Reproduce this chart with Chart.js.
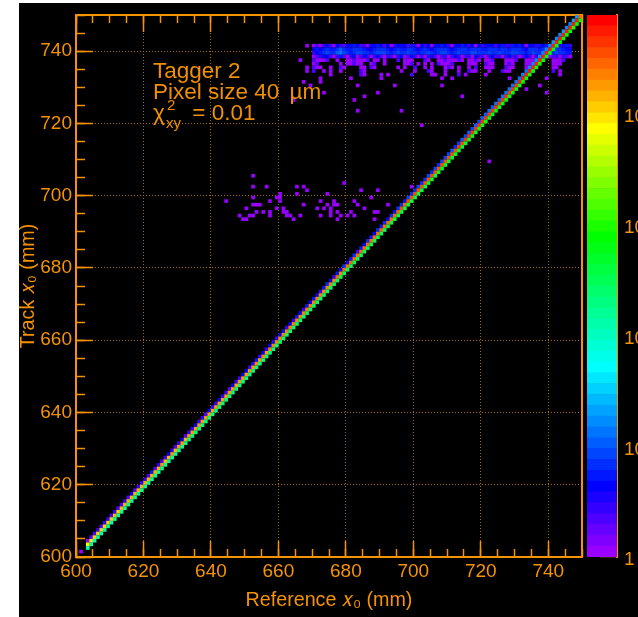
<!DOCTYPE html>
<html>
<head>
<meta charset="utf-8">
<title>Tagger 2</title>
<script src="https://cdn.jsdelivr.net/npm/chart.js@4/dist/chart.umd.min.js"></script>
<style>
html,body{margin:0;padding:0;background:#fff;}
#box{position:absolute;left:19px;top:3px;width:619px;height:614px;background:#000;overflow:hidden;}
#main{position:absolute;left:0;top:0;}
#bar{position:absolute;left:567px;top:0;}
.note{position:absolute;left:134px;color:#f09000;font:22.5px "Liberation Sans",sans-serif;white-space:pre;line-height:22px;}
.chi{display:inline-block;position:relative;width:33px;}
.chi span{position:absolute;left:14px;font-size:15px;line-height:15px;}
</style>
</head>
<body>
<div id="box">
  <canvas id="main" width="567" height="614"></canvas>
  <canvas id="bar" width="52" height="614"></canvas>
  <div class="note" style="top:57px">Tagger 2</div>
  <div class="note" style="top:78px">Pixel size 40 <span style="margin-left:4px">µm</span></div>
  <div class="note" style="top:99px"><span class="chi">χ<span style="top:-5px">2</span><span style="top:13px;left:13px">xy</span></span> = 0.01</div>
</div>
<script>
const ORANGE = '#f59300';
const GRID_ORANGE = '#a56800';
const FONT = '"Liberation Sans", sans-serif';

// columns of the diagonal, one value per x bin starting at 603
const DIAG_START = 603;
const diagUpper = [
  1,2,2,3,2,3,3,
  2,3,2,2,3,2,4,2,3,3,
  3,2,5,2,3,2,3,4,3,2,
  3,4,2,3,3,4,3,3,2,4,
  3,3,4,3,3,2,4,3,3,4,
  4,3,3,5,3,4,3,4,5,3,
  4,5,3,4,3,5,4,3,5,4,
  5,4,3,5,6,4,3,5,4,6,
  4,5,6,3,5,4,6,5,4,6,
  5,7,4,6,5,7,6,5,8,6,
  7,8,6,7,9,7,8,7,9,8,
  8,10,7,9,10,8,11,9,10,9,
  11,10,12,10,13,11,12,14,12,13,
  14,13,15,14,16,15,17,15,16,18,
  17,19,16,18,20,18,17,21,19,20
];
const diagMid = [
  6500,9000,10500,11000,11500,12000,12000,
  12500,13000,12000,13000,14000,13000,14000,14000,13000,14000,
  15000,14000,15000,15000,14000,16000,15000,15000,16000,15000,
  16000,16000,15000,17000,16000,17000,16000,17000,17000,16000,
  17000,18000,17000,18000,17000,18000,19000,18000,18000,19000,
  19000,18000,19000,20000,19000,20000,19000,20000,20000,21000,
  20000,21000,21000,20000,22000,21000,22000,22000,21000,23000,
  22000,23000,23000,24000,23000,24000,24000,25000,24000,25000,
  25000,26000,25000,27000,26000,27000,27000,28000,28000,29000,
  29000,28000,30000,30000,31000,30000,32000,31000,32000,33000,
  33000,34000,33000,35000,35000,34000,36000,36000,37000,37000,
  38000,38000,39000,40000,39000,41000,41000,42000,42000,43000,
  43000,44000,45000,44000,46000,46000,47000,47000,48000,49000,
  49000,50000,50000,51000,52000,52000,53000,54000,54000,55000,
  55000,56000,56000,57000,58000,58000,59000,60000,56000,30000
];
const diagLower = [
  115,125,130,128,135,132,140,
  138,145,142,150,148,152,150,155,158,152,
  160,155,162,165,158,168,165,170,166,172,
  175,170,178,176,180,182,178,185,188,184,
  190,186,192,195,190,198,196,200,202,198,
  205,208,204,210,212,208,215,218,214,220,
  224,220,228,232,226,236,240,235,244,248,
  245,252,258,254,262,268,264,272,278,275,
  285,292,288,298,305,300,312,320,316,328,
  335,330,345,352,348,362,370,365,380,390,
  385,400,412,408,425,435,430,448,460,455,
  472,485,480,498,510,505,525,540,535,555,
  570,565,585,600,595,615,630,625,645,660,
  655,675,690,685,705,720,715,735,750,745,
  770,785,780,800,820,815,835,850,845,700
];

// dense rows of the block near y = 740, one value per x bin starting at 668
const BAND_START = 668;
const band741 = [1,0,1,2,1,3,4,2,1,4,3,2,4,4,5,4,2,3,1,4,4,5,4,2,4,1,3,4,4,4,2,5,3,1,4,3,4,1,4,4,5,4,3,1,4,4,5,4,3,4,1,4,3,4,4,4,2,4,5,3,3,5,4,5,4,1,4,4,3,5,4,5,4,3,4,3,4,5,3];
const band740 = [0,0,4,5,4,5,6,5,5,7,11,6,5,5,6,7,6,5,4,4,5,6,7,6,5,4,5,6,5,5,6,7,5,4,5,6,5,4,5,6,7,6,5,4,5,6,7,6,5,6,7,6,5,5,6,7,6,5,7,6,5,6,7,6,5,4,6,7,6,5,7,6,5,6,7,6,5,4,4];
const band739 = [0,0,3,4,5,7,8,6,7,10,14,8,6,5,7,8,8,7,6,5,7,8,9,8,6,5,7,8,6,7,8,7,6,5,6,7,8,6,5,7,8,8,6,5,6,8,7,6,7,8,8,7,6,7,8,6,7,8,7,6,7,8,8,7,6,5,7,8,6,7,8,8,6,7,8,7,6,5,5];
const band738 = [0,0,1,2,3,4,4,2,1,3,5,2,1,3,4,1,2,4,3,1,3,4,2,1,3,2,1,3,4,1,2,4,3,1,3,1,3,4,2,1,2,3,1,2,4,3,1,2,3,1,4,3,2,1,3,4,2,3,1,3,4,2,3,1,2,4,3,1,3,2,4,3,1,2,3,1,3,2,1];

// sparse rows under the block, x bins holding one or two entries
const row737 = [666,670,671,672,673,674,677,680,681,682,683,684,685,686,688,689,691,695,697,698,699,703,704,707,708,709,710,711,712,713,714,716,717,718,719,721,722,723,727,728,729,730,733,734,735,736,741,742,743,744];
const row736 = [670,671,678,680,681,682,683,684,687,688,691,697,698,699,701,703,705,707,708,709,710,711,716,717,718,721,722,723,727,728,729,733,734,735,741,742,743];
const row735 = [668,670,671,672,675,678,679,684,685,687,688,695,697,700,703,705,709,710,711,713,716,718,721,722,723,727,728,729,733,734,735,741,742];
const row734 = [668,670,673,675,678,684,685,696,700,704,705,709,713,716,717,718,722,726,727,728,735,741,743];
const row733 = [675,684,685,690,692,699,705,706,709,713,715,721,743];

// isolated bins above the diagonal
const strayX = [601,652,652,656,665,667,668,665,660,674,679,684,689,699,652,659,660,687,644,657,660,672,676,682,652,653,654,667,674,676,677,683,692,650,659,661,671,673,675,685,653,655,657,661,662,675,677,681,688,689,648,651,652,657,662,663,666,672,675,678,680,682,649,650,664,677,688,667,672,672,669,673,681,683,690,694,689,685,682,664,683,696,702,708,711,708,714,728,739,733,737,739,722];
const strayY = [601,705,702,702,702,702,701,700,700,700,703,701,701,702,699,699,699,699,698,698,698,698,698,698,697,697,697,697,697,697,697,697,697,696,696,696,696,696,696,696,695,695,695,695,695,695,695,695,695,695,694,694,694,694,694,694,694,694,694,694,694,694,693,693,693,693,693,731,732,731,730,728,732,730,732,730,728,727,726,726,723,723,719,732,732,730,727,732,732,729,730,728,709];

// colour bar: palette from the lowest band up, and the band edges in counts
const paletteColors = [
  '#9900ff','#8000ff','#6600ff','#4d00ff','#3300ff','#1a00ff','#0000ff','#0017ff','#002eff','#0046ff',
  '#005dff','#0074ff','#008bff','#00a2ff','#00b9ff','#00d1ff','#00e8ff','#00ffff','#00ffea','#00ffd4',
  '#00ffbf','#00ffaa','#00ff95','#00ff80','#00ff6a','#00ff55','#00ff40','#00ff2a','#00ff15','#00ff00',
  '#1aff00','#33ff00','#4dff00','#66ff00','#80ff00','#99ff00','#b3ff00','#ccff00','#e6ff00','#ffff00',
  '#ffe600','#ffcc00','#ffb300','#ff9900','#ff8000','#ff6600','#ff4d00','#ff3300','#ff1a00','#ff0000'
];
const paletteEdges = [
  0.98,1.228,1.538,1.928,2.415,3.026,3.791,4.75,5.951,7.457,
  9.341,11.7,14.66,18.37,23.01,28.84,36.13,45.27,56.72,71.05,
  89.04,111.6,139.8,175.1,219.4,274.9,344.5,431.5,540.6,677.3,
  848.6,1063,1332,1669,2091,2620,3282,4114,5153,6457,
  8090,10140,12700,15910,19940,24980,31300,39210,49130,61550,77130
];
const barMajorTicks = [1,10,100,1000,10000];
const barMinorTicks = [2,3,4,5,6,7,8,9,20,30,40,50,60,70,80,90,200,300,400,500,600,700,800,900,2000,3000,4000,5000,6000,7000,8000,9000,20000,30000,40000,50000,60000,70000];

function countColor(n){
  for(let i = paletteColors.length - 1; i >= 0; i--){
    if(n >= paletteEdges[i]) return paletteColors[i];
  }
  return paletteColors[0];
}

function binPoint(x, y, n){
  return {x:x + 0.5, y:y + 0.5, n:n};
}

const cells = [];
[[741,band741],[740,band740],[739,band739],[738,band738]].forEach(([y,row])=>{
  row.forEach((n,i)=>{ if(n > 0) cells.push(binPoint(BAND_START + i, y, n)); });
});
[[737,row737],[736,row736],[735,row735],[734,row734],[733,row733]].forEach(([y,xs])=>{
  xs.forEach((x,i)=>cells.push(binPoint(x, y, i % 4 === 1 ? 2 : 1)));
});
strayX.forEach((x,i)=>cells.push(binPoint(x, strayY[i], 1)));

const diagCells = [];
diagMid.forEach((n,i)=>{
  const x = DIAG_START + i;
  diagCells.push(binPoint(x, x + 1, diagUpper[i]));
  diagCells.push(binPoint(x, x, n));
  diagCells.push(binPoint(x, x - 1, diagLower[i]));
});

const cellStyle = {
  showLine:false, pointStyle:'rect', pointRadius:2.6, pointBorderWidth:0,
  pointBackgroundColor:c=>countColor(c.raw.n)
};

// the scale reserves room for half a label, the frame here is fixed
function noPad(s){
  s.paddingTop = 0; s.paddingBottom = 0; s.paddingLeft = 0; s.paddingRight = 0;
}

// tick-only axis pinned on the frame, ticks point into the plot
function frameAxis(axis, pin, len, step, border){
  return {
    axis:axis, type:'linear', position:pin, min:600, max:750,
    ticks:{display:false, stepSize:step, includeBounds:false, autoSkip:false},
    grid:{drawOnChartArea:false, tickLength:len, tickColor:ORANGE, tickWidth:1.5},
    border:{display:border, color:ORANGE, width:2},
    afterFit:s=>{ noPad(s); if(axis === 'x') s.height = 0; else s.width = 0; }
  };
}

// axes carrying labels, titles and the dotted grid
function labelAxis(title){
  return {
    type:'linear', min:600, max:750, z:1,
    ticks:{stepSize:20, includeBounds:false, autoSkip:false, maxRotation:0, color:ORANGE, font:{family:FONT,size:19}},
    grid:{
      color:c=>(c.tick.value > 600 && c.tick.value < 750 ? GRID_ORANGE : 'transparent'),
      tickBorderDash:[], tickColor:ORANGE, tickWidth:1.5, lineWidth:1
    },
    border:{display:true, color:ORANGE, width:2, dash:[1,2]},
    title:{display:true, text:title, color:ORANGE, font:{family:FONT,size:19.7,lineHeight:1}, padding:0}
  };
}

const xAxis = labelAxis('Reference 𝑥₀ (mm)');
xAxis.ticks.padding = 19;
xAxis.grid.tickLength = -16;
xAxis.title.padding = {top:0,bottom:7};
xAxis.afterFit = s=>{ noPad(s); s.height = 60; };

const yAxis = labelAxis('Track 𝑥₀ (mm)');
yAxis.ticks.padding = 21;
yAxis.grid.tickLength = -17;
yAxis.afterFit = s=>{ noPad(s); s.width = 57; };

new Chart(document.getElementById('main'), {
  type:'scatter',
  data:{datasets:[
    Object.assign({label:'Track vs reference', data:diagCells, order:1}, cellStyle),
    Object.assign({label:'Off-diagonal', data:cells, order:2}, cellStyle)
  ]},
  options:{
    responsive:false, animation:false,
    layout:{padding:{top:12,right:1,left:0,bottom:0}},
    plugins:{legend:{display:false}, tooltip:{enabled:false}},
    scales:{
      x:xAxis,
      y:yAxis,
      xMinor:frameAxis('x', {y:600}, -8, 5, false),
      xTop:frameAxis('x', {y:750}, 16, 20, true),
      xTopMinor:frameAxis('x', {y:750}, 8, 5, false),
      yMinor:frameAxis('y', {x:600}, -9, 5, false),
      yRight:frameAxis('y', {x:750}, 0, 20, true)
    }
  }
});

new Chart(document.getElementById('bar'), {
  type:'bar',
  data:{
    labels:[''],
    datasets:paletteColors.map((color,i)=>({
      data:[[paletteEdges[i], paletteEdges[i + 1]]],
      backgroundColor:color, grouped:false, barPercentage:1, categoryPercentage:1, borderWidth:0
    }))
  },
  options:{
    responsive:false, animation:false,
    layout:{padding:{top:12,bottom:60,left:1,right:0}},
    plugins:{legend:{display:false}, tooltip:{enabled:false}},
    scales:{
      x:{display:false},
      y:{
        type:'logarithmic', position:'right', min:0.98, max:77130, weight:1,
        afterBuildTicks:s=>{ s.ticks = barMajorTicks.map(v=>({value:v})); },
        afterFit:s=>{ noPad(s); s.width = 21; },
        ticks:{
          autoSkip:false, padding:24, crossAlign:'near', color:ORANGE,
          font:{family:FONT,size:19,lineHeight:0.42},
          // empty first line pushes the label a little under its tick
          callback:v=>['', v === 1 ? '1' : '10']
        },
        grid:{drawOnChartArea:false, tickLength:-17, tickColor:ORANGE, tickWidth:1.5},
        border:{display:true, color:ORANGE, width:2}
      },
      yMinor:{
        axis:'y', type:'logarithmic', position:'right', min:0.98, max:77130, weight:0,
        afterBuildTicks:s=>{ s.ticks = barMinorTicks.map(v=>({value:v})); },
        afterFit:s=>{ noPad(s); s.width = 0; },
        ticks:{display:false, autoSkip:false},
        grid:{drawOnChartArea:false, tickLength:-8, tickColor:ORANGE, tickWidth:1.5},
        border:{display:false}
      }
    }
  }
});
</script>
</body>
</html>
